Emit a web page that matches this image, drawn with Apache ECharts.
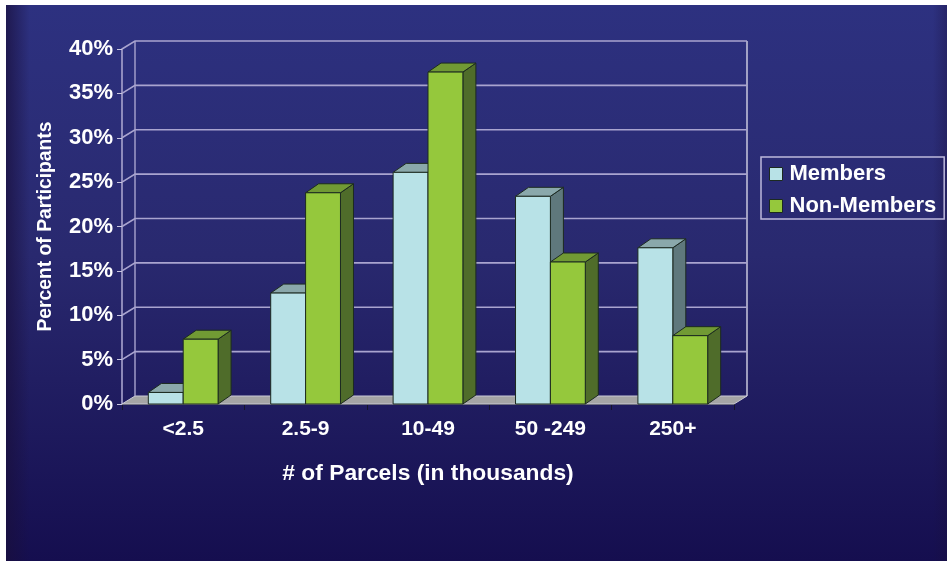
<!DOCTYPE html>
<html><head><meta charset="utf-8">
<style>html,body{margin:0;padding:0;background:#fff}#c{width:947px;height:561px}</style>
<script src="https://cdn.jsdelivr.net/npm/echarts@6/dist/echarts.min.js"></script>
</head><body><div id="c"></div>
<script>
const categories = ['<2.5', '2.5-9', '10-49', '50 -249', '250+'];
const members = [1.3, 12.5, 26.1, 23.4, 17.6];
const nonMembers = [7.3, 23.8, 37.4, 16.0, 7.7];
const yTicks = [0, 5, 10, 15, 20, 25, 30, 35, 40];
const depthX = 13, depthY = 8, barDepthY = 9;
const FONT = '"Liberation Sans", Arial, sans-serif';
const paletteM = {front:'#b8e2e7', top:'#8aa8ab', side:'#5f787c'};
const paletteN = {front:'#95c83c', top:'#719a34', side:'#4f6c2a'};
const chart = echarts.init(document.getElementById('c'), null, {renderer:'canvas'});

function barRender(palette, sign){
  return function(params, api){
    const idx = api.value(0), val = api.value(1);
    const band = api.size([1,0])[0];
    const w = band * 0.285;
    const c = api.coord([idx, val]), b = api.coord([idx, 0]);
    const x0 = sign < 0 ? c[0] - w : c[0], x1 = x0 + w, yt = c[1], yb = b[1];
    const stroke = {stroke:'#1c2a20', lineWidth:1};
    return {type:'group', children:[
      {type:'polygon', shape:{points:[[x1,yt],[x1+depthX,yt-barDepthY],[x1+depthX,yb-barDepthY],[x1,yb]]}, style:Object.assign({fill:palette.side},stroke)},
      {type:'polygon', shape:{points:[[x0,yt],[x0+depthX,yt-barDepthY],[x1+depthX,yt-barDepthY],[x1,yt]]}, style:Object.assign({fill:palette.top},stroke)},
      {type:'rect', shape:{x:x0,y:yt,width:w,height:yb-yt}, style:Object.assign({fill:palette.front},stroke)}
    ]};
  };
}
function wallRender(params, api){
  const v = api.value(0), cs = params.coordSys;
  const y = api.coord([0, v])[1];
  const xl = cs.x, xr = cs.x + cs.width;
  const line = {stroke:'#a9a4cf', lineWidth:1.6, fill:null};
  const kids = [];
  if (v === 0) {
    kids.push({type:'polygon', shape:{points:[[xl,y],[xl+depthX,y-depthY],[xr+depthX,y-depthY],[xr,y]]}, style:{fill:'#a5a5a5', stroke:'#c9c9d6', lineWidth:1}});
    kids.push({type:'line', shape:{x1:xr+depthX,y1:y-depthY,x2:xr+depthX,y2:cs.y-depthY}, style:{stroke:'#d5d3e6', lineWidth:1.4}});
    kids.push({type:'line', shape:{x1:xl+depthX,y1:y-depthY,x2:xl+depthX,y2:cs.y-depthY}, style:{stroke:'#a9a4cf', lineWidth:1.4}});
  } else {
    kids.push({type:'polyline', shape:{points:[[xl,y],[xl+depthX,y-depthY],[xr+depthX,y-depthY]]}, style:line});
  }
  return {type:'group', children:kids};
}

chart.setOption({
  animation:false,
  graphic:[
    {type:'rect', z:-10, silent:true, shape:{x:6,y:5,width:941,height:556},
     style:{fill:new echarts.graphic.LinearGradient(0,0,0,1,[{offset:0,color:'#2d3180'},{offset:0.45,color:'#29296f'},{offset:1,color:'#150e4f'}])}},
    {type:'rect', z:-9, silent:true, shape:{x:6,y:5,width:941,height:556},
     style:{fill:new echarts.graphic.LinearGradient(0,0,1,0,[{offset:0,color:'rgba(25,15,60,0.7)'},{offset:0.025,color:'rgba(25,15,60,0)'},{offset:0.985,color:'rgba(25,15,60,0)'},{offset:1,color:'rgba(25,15,60,0.35)'}])}}
  ],
  grid:{left:122, top:49, width:612, height:355, containLabel:false},
  legend:{
    orient:'vertical', left:761, top:157, selectedMode:false,
    padding:[6,8,2,8], itemGap:10, itemWidth:13, itemHeight:13, icon:'rect',
    borderColor:'#bdb9dc', borderWidth:1.5, backgroundColor:'transparent',
    textStyle:{color:'#fff', fontFamily:FONT, fontWeight:'bold', fontSize:22, padding:[0,0,0,2]},
    data:[
      {name:'Members', itemStyle:{color:paletteM.front, borderColor:'#1c2a20', borderWidth:1}},
      {name:'Non-Members', itemStyle:{color:paletteN.front, borderColor:'#1c2a20', borderWidth:1}}
    ]
  },
  xAxis:{
    type:'category', data:categories,
    name:'# of Parcels (in thousands)', nameLocation:'middle', nameGap:58,
    nameTextStyle:{color:'#fff', fontFamily:FONT, fontWeight:'bold', fontSize:22.8},
    axisLine:{lineStyle:{color:'#15152a', width:1.2}},
    axisTick:{show:true, alignWithLabel:false, length:6, lineStyle:{color:'#15152a'}},
    axisLabel:{color:'#fff', fontFamily:FONT, fontWeight:'bold', fontSize:21, margin:15, interval:0},
    splitLine:{show:false}
  },
  yAxis:{
    type:'value', min:0, max:40, interval:5,
    name:'Percent of Participants', nameLocation:'middle', nameGap:67, nameRotate:90,
    nameTextStyle:{color:'#fff', fontFamily:FONT, fontWeight:'bold', fontSize:19.3},
    axisLine:{show:true, lineStyle:{color:'#a9a4cf', width:1.6}},
    axisTick:{show:true, length:5, lineStyle:{color:'#c9c6e0'}},
    axisLabel:{color:'#fff', fontFamily:FONT, fontWeight:'bold', fontSize:22, margin:9, formatter:'{value}%'},
    splitLine:{show:false}
  },
  series:[
    {type:'custom', name:'wall', silent:true, z:1, renderItem:wallRender, encode:{y:0}, data:yTicks.map(v=>[v])},
    {type:'custom', name:'Members', z:2, itemStyle:{color:paletteM.front}, renderItem:barRender(paletteM,-1), encode:{x:0,y:1}, data:members.map((v,i)=>[i,v])},
    {type:'custom', name:'Non-Members', z:3, itemStyle:{color:paletteN.front}, renderItem:barRender(paletteN,1), encode:{x:0,y:1}, data:nonMembers.map((v,i)=>[i,v])}
  ]
});
</script></body></html>
